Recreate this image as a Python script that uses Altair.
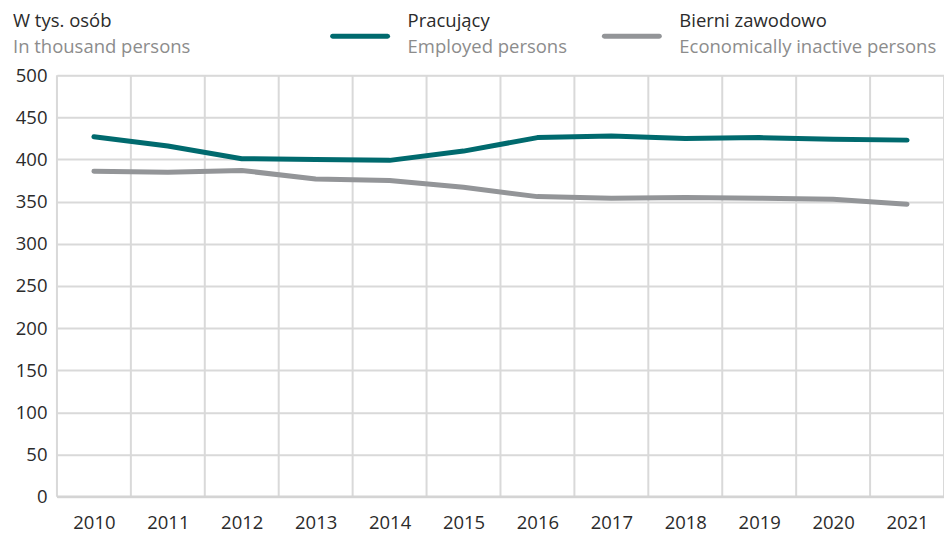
import altair as alt
import pandas as pd

years = [2010, 2011, 2012, 2013, 2014, 2015, 2016, 2017, 2018, 2019, 2020, 2021]
employed = [427, 416, 401, 400, 399, 410, 426, 428, 425, 426, 424, 423]
inactive = [386, 385, 387, 377, 375, 367, 356, 354, 355, 354, 353, 347]
series_pl = ["Pracujący", "Bierni zawodowo"]
series_en = ["Employed persons", "Economically inactive persons"]
colors = ["#006a6e", "#939598"]
title_pl = "W tys. osób"
title_en = "In thousand persons"

FONT = "Open Sans"
FS = 18.5
W, H = 888, 422

rows = []
for y, e, i in zip(years, employed, inactive):
    rows.append({"year": y, "value": e, "series": series_pl[0]})
    rows.append({"year": y, "value": i, "series": series_pl[1]})
df = pd.DataFrame(rows)

xscale = alt.Scale(domain=[years[0] - 0.5, years[-1] + 0.5], nice=False, zero=False)
yscale = alt.Scale(domain=[0, 500], nice=False)
cscale = alt.Scale(domain=series_pl, range=colors)

grid_vals = [y - 0.5 for y in years] + [years[-1] + 0.5]

lines = alt.Chart(df).mark_line(strokeWidth=5, strokeCap="round", strokeJoin="round").encode(
    x=alt.X("year:Q", scale=xscale,
            axis=alt.Axis(values=years, format="d", grid=False, ticks=False, domain=False,
                          labelFontSize=FS, labelFont=FONT, labelColor="#2b2b2b",
                          labelPadding=17, title=None)),
    y=alt.Y("value:Q", scale=yscale,
            axis=alt.Axis(values=list(range(0, 501, 50)), grid=True, gridColor="#d9d9d9",
                          gridWidth=2, ticks=False, domain=False, labelFontSize=FS,
                          labelFont=FONT, labelColor="#2b2b2b", labelPadding=10, title=None)),
    color=alt.Color("series:N", scale=cscale, legend=None),
    detail="series:N",
)

vgrid_df = pd.DataFrame({"gx": grid_vals})
vgrid = alt.Chart(vgrid_df).mark_rule(color="#d9d9d9", strokeWidth=2).encode(
    x=alt.X("gx:Q", scale=xscale),
    y=alt.value(0), y2=alt.value(H),
)
bottom = alt.Chart(pd.DataFrame({"v": [0]})).mark_rule(color="#d4d4d4", strokeWidth=2.5).encode(
    y=alt.Y("v:Q", scale=yscale), x=alt.value(0), x2=alt.value(W)
)

# title
t1 = alt.Chart(pd.DataFrame({"t": [title_pl]})).mark_text(
    align="left", baseline="middle", fontSize=FS, font=FONT, color="#2b2b2b"
).encode(text="t:N", x=alt.value(-44), y=alt.value(-54))
t2 = alt.Chart(pd.DataFrame({"t": [title_en]})).mark_text(
    align="left", baseline="middle", fontSize=FS, font=FONT, color="#8c8c8c"
).encode(text="t:N", x=alt.value(-44), y=alt.value(-28))

# legend
leg = []
leg_x = [276, 548]
for k in range(2):
    x0 = leg_x[k]
    leg.append(alt.Chart(pd.DataFrame({"s": [series_pl[k]]})).mark_rule(
        strokeWidth=5, strokeCap="round", color=colors[k]
    ).encode(x=alt.value(x0), x2=alt.value(x0 + 55), y=alt.value(-39)))
    leg.append(alt.Chart(pd.DataFrame({"t": [series_pl[k]]})).mark_text(
        align="left", baseline="middle", fontSize=FS, font=FONT, color="#2b2b2b"
    ).encode(text="t:N", x=alt.value(x0 + 75), y=alt.value(-54)))
    leg.append(alt.Chart(pd.DataFrame({"t": [series_en[k]]})).mark_text(
        align="left", baseline="middle", fontSize=FS, font=FONT, color="#8c8c8c"
    ).encode(text="t:N", x=alt.value(x0 + 75), y=alt.value(-28)))

chart = alt.layer(vgrid, bottom, lines, t1, t2, *leg).properties(
    width=W, height=H,
    autosize=alt.AutoSizeParams(type="none"),
    padding={"left": 49, "top": 67, "right": 0, "bottom": 36},
).configure_view(stroke=None).configure(background="white")

chart.save("out.html", embed_options={"renderer": "svg", "actions": False})
